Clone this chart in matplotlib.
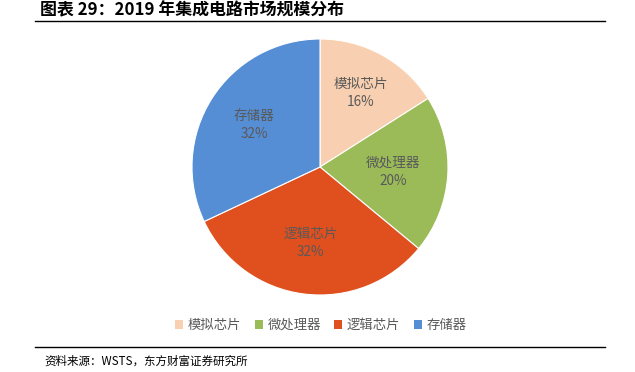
import numpy as np
import matplotlib.pyplot as plt
from matplotlib.patches import Patch

plt.rcParams['font.family'] = ['Noto Sans CJK SC', 'DejaVu Sans']

categories = ['模拟芯片', '微处理器', '逻辑芯片', '存储器']
shares = [16, 20, 32, 32]
colors = ['#F8CFB0', '#9BBB59', '#E04F1E', '#558ED5']

W, H = 635, 372
fig = plt.figure(figsize=(W / 100, H / 100), dpi=100)

# pie area: centre (320,167) px, radius 128 px
cx, cy, r = 320, 167, 128
ax = fig.add_axes([(cx - r) / W, (H - cy - r) / H, 2 * r / W, 2 * r / H])
wedges, _ = ax.pie(shares, colors=colors, startangle=90, counterclock=False,
                   wedgeprops=dict(linewidth=0.8, edgecolor='white'))
ax.set_xlim(-1, 1)
ax.set_ylim(-1, 1)
ax.set_aspect('equal')

# label distance from centre (fraction of radius), like Excel's best fit
label_dist = [0.66, 0.57, 0.60, 0.61]
for w, cat, v, d in zip(wedges, categories, shares, label_dist):
    ang = np.deg2rad((w.theta1 + w.theta2) / 2)
    ax.text(d * np.cos(ang), d * np.sin(ang), f'{cat}\n{v}%', ha='center', va='center',
            color='#595959', fontsize=9.8, linespacing=1.4)

# title and rules
fig.text(40 / W, 1 - 10 / H, '图表 29：2019 年集成电路市场规模分布',
         fontsize=12.2, fontweight='bold', va='center', ha='left')
fig.add_artist(plt.Line2D([35 / W, 605 / W], [1 - 21 / H] * 2, color='black', lw=1))
fig.add_artist(plt.Line2D([35 / W, 605 / W], [1 - 347 / H] * 2, color='black', lw=1))
fig.text(44 / W, 1 - 361 / H, '资料来源：WSTS，东方财富证券研究所',
         fontsize=8.3, va='center', ha='left')

handles = [Patch(facecolor=c, edgecolor='none') for c in colors]
fig.legend(handles, categories, loc='center', bbox_to_anchor=(321 / W, 1 - 325 / H),
           ncol=4, frameon=False, fontsize=9.6, handlelength=0.6, handleheight=0.6,
           handletextpad=0.35, columnspacing=1.0, labelcolor='#595959')

fig.savefig('out.png', dpi=100)
